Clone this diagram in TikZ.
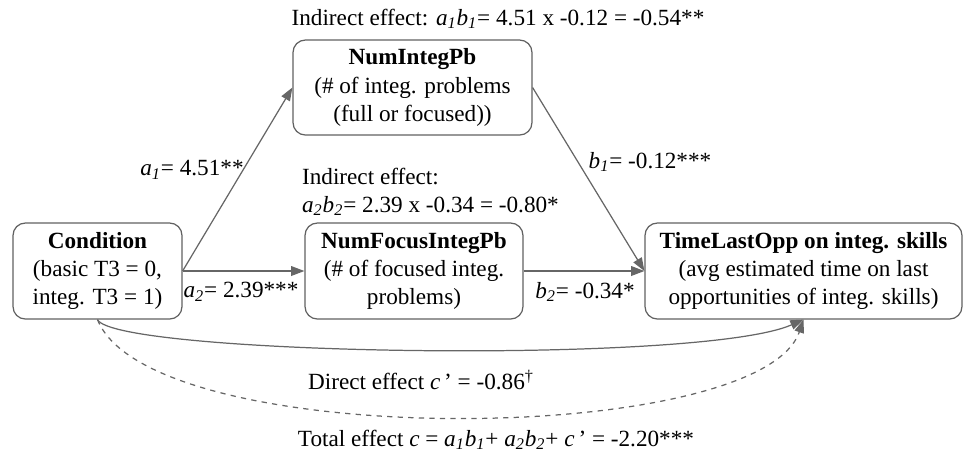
\documentclass[tikz,border=0pt]{standalone}
\usepackage{fontspec}
\setmainfont{Liberation Serif}
\usetikzlibrary{arrows.meta,positioning}

\newcommand{\cf}[2]{\textit{#1}\textsubscript{\textit{#2}}}

\tikzset{
  varbox/.style={draw=black!62,line width=0.7pt,rounded corners=7pt,align=center,inner sep=2pt,
    font=\fontsize{13.2}{16}\selectfont},
  link/.style={draw=black!60,line width=0.7pt,-{Triangle[length=7.5pt,width=5.5pt]}},
  lbl/.style={inner sep=1pt,font=\fontsize{13.2}{16}\selectfont}
}

\begin{document}
\begin{tikzpicture}[x=0.02cm,y=-0.02cm]
  \useasboundingbox (0,0) rectangle (965,458);

  % variables
  \node[varbox,minimum width=3.38cm,minimum height=1.92cm] (cond) at (97.5,271)
    {\textbf{Condition}\\(basic T3 = 0,\\integ. T3 = 1)};
  \node[varbox,minimum width=4.78cm,minimum height=1.9cm] (nip) at (412.5,87.5)
    {\textbf{NumIntegPb}\\(\# of integ. problems\\(full or focused))};
  \node[varbox,minimum width=4.36cm,minimum height=1.92cm] (nfip) at (414,271)
    {\textbf{NumFocusIntegPb}\\(\# of focused integ.\\problems)};
  \node[varbox,minimum width=6.34cm,minimum height=1.92cm] (tlo) at (803.5,271)
    {\textbf{TimeLastOpp on integ. skills}\\(avg estimated time on last\\opportunities of integ. skills)};

  % paths
  \draw[link] (cond.east) -- (nip.west);
  \draw[link] (cond.east) -- (nfip.west);
  \draw[link] (nip.east) -- (tlo.west);
  \draw[link] (nfip.east) -- (tlo.west);
  \draw[link] (cond.south) .. controls (115,355) and (700,365) .. (tlo.south);
  \draw[link,dashed] (cond.south) .. controls (150,452) and (760,447) .. (tlo.south);

  % coefficients
  \node[lbl] (ind1) at (498,19) {Indirect effect: \cf{a}{1}\cf{b}{1}= 4.51 x -0.12 = -0.54**};
  \node[lbl,align=left,anchor=west] (ind2) at (300,192)
    {Indirect effect:\\\cf{a}{2}\cf{b}{2}= 2.39 x -0.34 = -0.80*};
  \node[lbl] (a1lab) at (192,170) {\cf{a}{1}= 4.51**};
  \node[lbl] (b1lab) at (650,162) {\cf{b}{1}= -0.12***};
  \node[lbl] (a2lab) at (241,292) {\cf{a}{2}= 2.39***};
  \node[lbl] (b2lab) at (585,292) {\cf{b}{2}= -0.34*};
  \node[lbl] (direct) at (421,380) {Direct effect \textit{c}\,’ = -0.86\textsuperscript{\textdagger}};
  \node[lbl] (total) at (496,440)
    {Total effect \textit{c} = \cf{a}{1}\cf{b}{1}+ \cf{a}{2}\cf{b}{2}+ \textit{c}\,’ = -2.20***};
\end{tikzpicture}
\end{document}
